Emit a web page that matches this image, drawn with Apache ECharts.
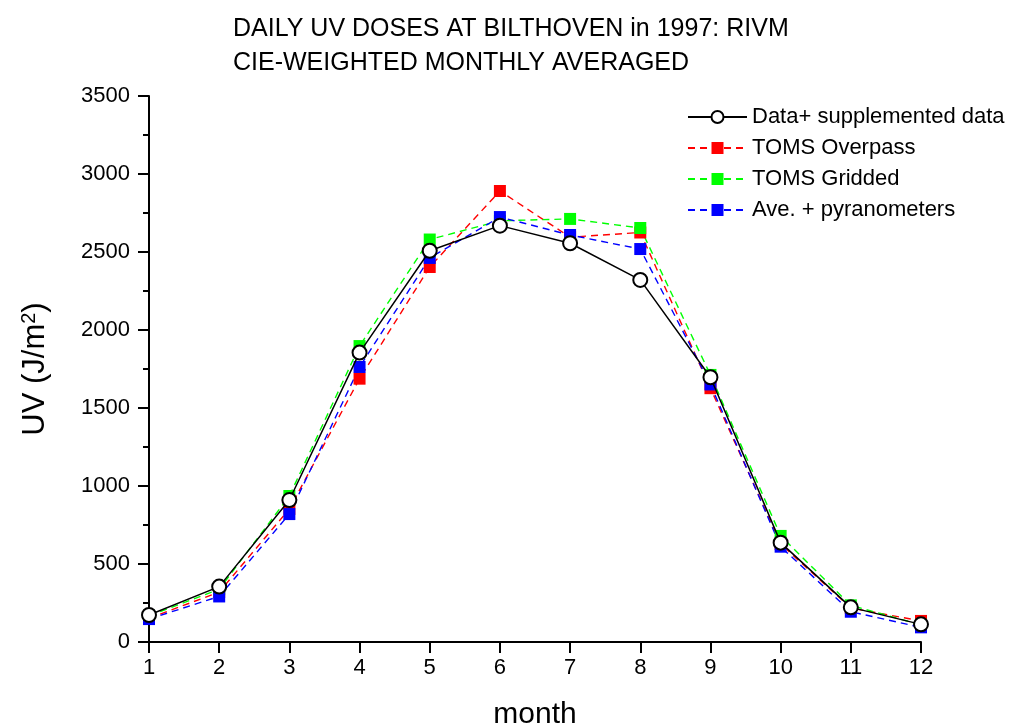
<!DOCTYPE html>
<html>
<head>
<meta charset="utf-8">
<script src="https://cdn.jsdelivr.net/npm/echarts@6/dist/echarts.min.js"></script>
<style>
  html, body { margin: 0; padding: 0; background: #fff; overflow: hidden; }
  #chart { width: 1009px; height: 726px; }
</style>
</head>
<body>
<div id="chart"></div>
<script>
// Monthly averaged CIE-weighted daily UV doses (J/m2), Bilthoven 1997
const months = [1, 2, 3, 4, 5, 6, 7, 8, 9, 10, 11, 12];
const dataSupplemented = [173, 355, 910, 1855, 2508, 2669, 2556, 2321, 1697, 637, 222, 113];
const tomsOverpass = [152, 320, 853, 1688, 2404, 2891, 2595, 2625, 1627, 628, 218, 135];
const tomsGridded = [168, 338, 936, 1897, 2580, 2700, 2712, 2654, 1712, 680, 235, 110];
const avePyranometers = [147, 292, 820, 1763, 2462, 2724, 2609, 2519, 1651, 611, 194, 94];
const yTicks = [0, 500, 1000, 1500, 2000, 2500, 3000, 3500];

const FONT = '"Liberation Sans", Arial, sans-serif';
const pairs = arr => months.map((m, i) => [m, arr[i]]);

const chart = echarts.init(document.getElementById('chart'), null, { renderer: 'canvas' });

function dashed(name, values, color) {
  return {
    name: name,
    type: 'line',
    data: pairs(values),
    symbol: 'rect',
    symbolSize: 12,
    itemStyle: { color: color, borderWidth: 0 },
    lineStyle: { color: color, width: 1.4, type: [7, 5] },
    emphasis: { disabled: true },
    animation: false
  };
}

chart.setOption({
  animation: false,
  title: {
    text: 'DAILY UV DOSES AT BILTHOVEN in 1997: RIVM\nCIE-WEIGHTED MONTHLY AVERAGED',
    left: 228,
    top: 7,
    textStyle: { fontFamily: FONT, fontSize: 25, fontWeight: 'normal', color: '#000', lineHeight: 34 }
  },
  legend: {
    data: ['Data+ supplemented data', 'TOMS Overpass', 'TOMS Gridded', 'Ave. + pyranometers'],
    orient: 'vertical',
    left: 682,
    top: 101,
    itemWidth: 59,
    itemHeight: 15,
    itemGap: 9,
    textStyle: { fontFamily: FONT, fontSize: 22, color: '#000' },
    selectedMode: false
  },
  grid: {
    left: 149, right: 88, top: 96, bottom: 84,
    containLabel: false,
    outerBoundsMode: 'none'
  },
  xAxis: {
    type: 'value',
    min: 1,
    max: 12,
    interval: 1,
    name: 'month',
    nameLocation: 'middle',
    nameGap: 58,
    nameTextStyle: { fontFamily: FONT, fontSize: 30, color: '#000' },
    axisLine: { show: true, lineStyle: { color: '#000', width: 2 } },
    axisTick: { show: true, inside: false, length: 11, lineStyle: { color: '#000', width: 2 } },
    axisLabel: { fontFamily: FONT, fontSize: 22, color: '#000', margin: 15 },
    splitLine: { show: false }
  },
  yAxis: {
    type: 'value',
    min: 0,
    max: 3500,
    interval: 500,
    name: '{base|UV (J/m}{sup|2}{base|)}',
    nameLocation: 'middle',
    nameGap: 98,
    nameRotate: 90,
    nameTextStyle: {
      fontFamily: FONT, fontSize: 31, color: '#000',
      rich: {
        base: { fontFamily: FONT, fontSize: 31, color: '#000' },
        sup: { fontFamily: FONT, fontSize: 20, color: '#000', verticalAlign: 'top', padding: [0, 0, 12, 0] }
      }
    },
    axisLine: { show: true, lineStyle: { color: '#000', width: 2 } },
    axisTick: { show: true, inside: false, length: 11, lineStyle: { color: '#000', width: 2 } },
    minorTick: { show: true, splitNumber: 2, length: 6, lineStyle: { color: '#000', width: 2 } },
    axisLabel: {
      fontFamily: FONT, fontSize: 22, color: '#000', margin: 19,
      formatter: v => (yTicks.indexOf(v) >= 0 ? String(v) : '')
    },
    splitLine: { show: false }
  },
  series: [
    dashed('TOMS Overpass', tomsOverpass, '#ff0000'),
    dashed('TOMS Gridded', tomsGridded, '#00ff00'),
    dashed('Ave. + pyranometers', avePyranometers, '#0000ff'),
    {
      name: 'Data+ supplemented data',
      type: 'line',
      data: pairs(dataSupplemented),
      symbol: 'circle',
      symbolSize: 14,
      itemStyle: { color: '#fff', borderColor: '#000', borderWidth: 2 },
      lineStyle: { color: '#000', width: 1.5 },
      emphasis: { disabled: true },
      animation: false,
      z: 5
    }
  ]
});
</script>
</body>
</html>
